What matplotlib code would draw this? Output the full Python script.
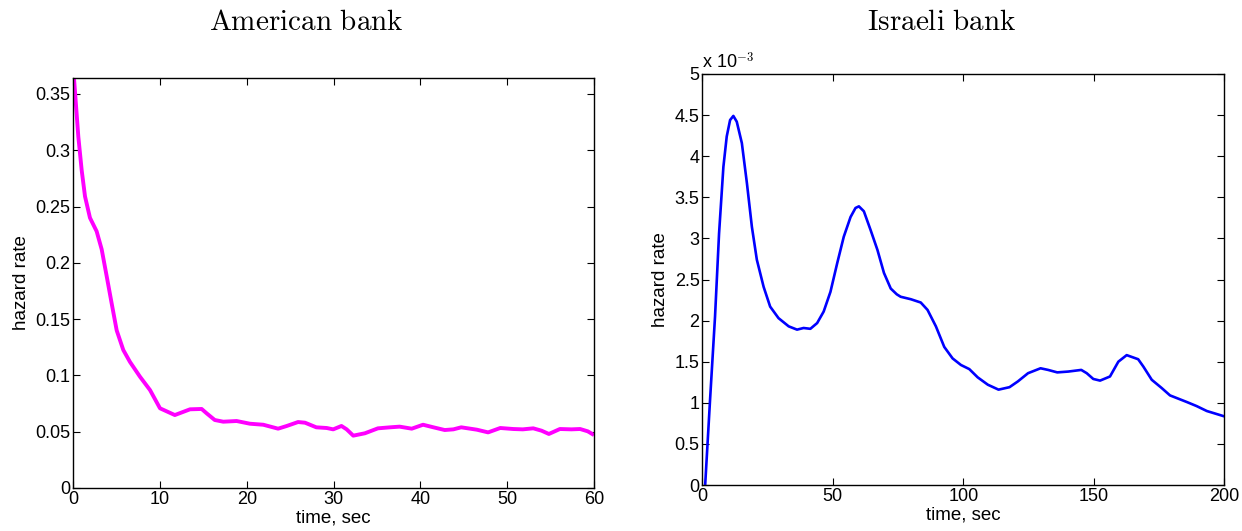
import matplotlib
matplotlib.use("Agg")
import matplotlib.pyplot as plt
from matplotlib.ticker import FuncFormatter

plt.rcParams['font.family'] = ['Liberation Sans', 'DejaVu Sans']
plt.rcParams['mathtext.fontset'] = 'cm'

# American bank hazard rate (time in seconds)
us_time = [0.0, 0.08, 0.58, 0.97, 1.35, 1.92, 2.69, 3.27, 3.85, 4.42, 5.0, 5.76,
           6.53, 7.68, 8.84, 9.99, 11.7, 13.45, 14.79, 15.37, 16.3, 17.28, 18.82,
           20.35, 21.89, 23.6, 24.6, 25.9, 26.7, 28.0, 29.2, 29.95, 30.9, 31.5,
           32.26, 33.6, 35.1, 36.5, 37.6, 39.0, 40.3, 41.5, 42.8, 43.8, 44.7,
           46.5, 47.8, 49.2, 50.7, 51.8, 53.0, 53.96, 54.8, 56.07, 57.4, 58.4,
           59.3, 60.0]
us_rate = [0.366, 0.364, 0.312, 0.282, 0.259, 0.240, 0.228, 0.212, 0.188, 0.164,
           0.140, 0.1226, 0.112, 0.0989, 0.087, 0.0708, 0.0648, 0.0699, 0.0702,
           0.0663, 0.0604, 0.0589, 0.0595, 0.0571, 0.0562, 0.0527, 0.0551, 0.0586,
           0.058, 0.0539, 0.0533, 0.0521, 0.0551, 0.0521, 0.0465, 0.0486, 0.053,
           0.0539, 0.0545, 0.0527, 0.0562, 0.0539, 0.0515, 0.0521, 0.0539, 0.0518,
           0.0494, 0.0533, 0.0524, 0.0521, 0.053, 0.0509, 0.048, 0.0524, 0.0521,
           0.0524, 0.0503, 0.047]

# Israeli bank hazard rate, in units of 1e-3 (time in seconds)
il_time = [1.1, 2.96, 4.88, 6.42, 8.08, 9.36, 10.65, 11.9, 13.2, 15.15, 17.1,
           19.0, 20.9, 23.5, 26.0, 29.2, 33.1, 36.3, 38.8, 41.4, 44.0, 46.5,
           49.1, 51.7, 54.2, 56.8, 58.7, 60.0, 61.9, 64.5, 67.1, 69.6, 72.2,
           74.5, 76.0, 79.9, 83.7, 86.3, 89.5, 92.7, 95.9, 99.1, 102.3, 105.5,
           109.4, 113.5, 117.7, 120.9, 124.8, 129.6, 132.5, 136.0, 140.2, 145.2,
           147.3, 149.8, 152.4, 156.2, 159.4, 162.6, 167.0, 169.0, 172.2, 176.0,
           179.2, 182.4, 185.6, 189.4, 193.3, 196.4, 200.0]
il_rate = [0.0, 1.03, 2.05, 3.06, 3.87, 4.24, 4.44, 4.49, 4.42, 4.16, 3.67,
           3.14, 2.74, 2.41, 2.17, 2.03, 1.93, 1.89, 1.91, 1.90, 1.97, 2.11,
           2.35, 2.70, 3.02, 3.26, 3.37, 3.39, 3.33, 3.10, 2.86, 2.58, 2.39,
           2.32, 2.29, 2.26, 2.22, 2.13, 1.93, 1.68, 1.54, 1.46, 1.41, 1.31,
           1.22, 1.16, 1.19, 1.26, 1.36, 1.42, 1.40, 1.37, 1.38, 1.40,
           1.36, 1.29, 1.27, 1.32, 1.50, 1.58, 1.53, 1.44, 1.28, 1.18,
           1.09, 1.05, 1.01, 0.96, 0.90, 0.87, 0.835]
il_scale = 1e-3

us_xticks = [0, 10, 20, 30, 40, 50, 60]
us_yticks = [0, 0.05, 0.1, 0.15, 0.2, 0.25, 0.3, 0.35]
il_xticks = [0, 50, 100, 150, 200]
il_yticks = [0, 0.5, 1, 1.5, 2, 2.5, 3, 3.5, 4, 4.5, 5]

W, H = 1242, 531
fig = plt.figure(figsize=(W / 100, H / 100), dpi=100)


def style(ax):
    ax.tick_params(direction='in', top=True, right=True, length=5, width=0.8,
                   labelsize=13, pad=2)
    for s in ax.spines.values():
        s.set_linewidth(1.0)


ax1 = fig.add_axes([73.3 / W, 1 - 488 / H, (594 - 73.3) / W, (488 - 78) / H])
ax1.plot(us_time, us_rate, color='#ff00ff', lw=2.8, solid_joinstyle='round',
         solid_capstyle='butt')
ax1.set_xlim(0, 60)
ax1.set_ylim(0, 0.3642)
ax1.set_xticks(us_xticks)
ax1.set_yticks(us_yticks)
ax1.yaxis.set_major_formatter(FuncFormatter(lambda v, p: f"{v:g}"))
ax1.set_xlabel("time, sec", fontsize=13.5, labelpad=1)
ax1.set_ylabel("hazard rate", fontsize=13.5, labelpad=4)
style(ax1)

ax2 = fig.add_axes([702.3 / W, 1 - 485 / H, (1224.3 - 702.3) / W, (485 - 74) / H])
ax2.plot(il_time, [v * il_scale for v in il_rate], color='#0000ff', lw=1.9,
         solid_joinstyle='round', solid_capstyle='butt')
ax2.set_xlim(0, 200)
ax2.set_ylim(0, 5 * il_scale)
ax2.set_xticks(il_xticks)
ax2.set_yticks([t * il_scale for t in il_yticks])
ax2.yaxis.set_major_formatter(
    FuncFormatter(lambda v, p: f"{round(v / il_scale, 6):g}"))
ax2.set_xlabel("time, sec", fontsize=13.5, labelpad=1)
ax2.set_ylabel("hazard rate", fontsize=13.5, labelpad=4)
style(ax2)
ax2.text(0.0, 1.005, r"x 10$^{\mathsf{-3}}$", transform=ax2.transAxes,
         fontsize=13, ha='left', va='bottom')

fig.text(306 / W, 1 - 22 / H, r"$\mathrm{American\ bank}$", fontsize=21,
         ha='center', va='center')
fig.text(942 / W, 1 - 22 / H, r"$\mathrm{Israeli\ bank}$", fontsize=21,
         ha='center', va='center')

fig.savefig("out.png", dpi=100)
